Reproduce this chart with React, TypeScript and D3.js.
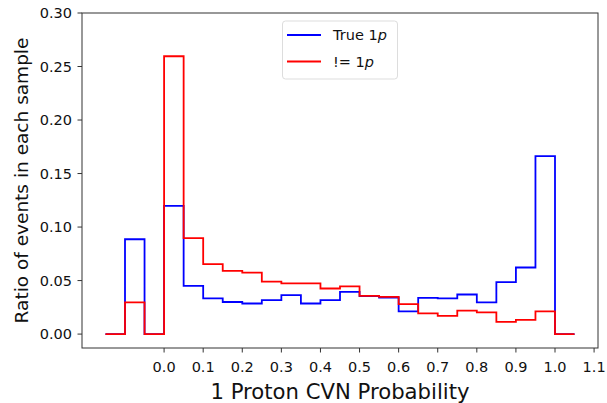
import React from "react";
import * as d3 from "d3";

const binEdges = [-0.15, -0.1, -0.05, 0.0, 0.05, 0.1, 0.15, 0.2, 0.25, 0.3, 0.35, 0.4, 0.45, 0.5, 0.55, 0.6, 0.65, 0.7, 0.75, 0.8, 0.85, 0.9, 0.95, 1.0, 1.05];
const trueP = [0, 0.0886, 0, 0.1197, 0.045, 0.0333, 0.030, 0.0286, 0.0317, 0.0364, 0.0286, 0.0317, 0.0395, 0.0355, 0.0342, 0.0212, 0.0339, 0.0333, 0.037, 0.0296, 0.0485, 0.0622, 0.1663, 0];
const notP = [0, 0.0296, 0, 0.2596, 0.0896, 0.0653, 0.059, 0.0575, 0.049, 0.0473, 0.0473, 0.0426, 0.0445, 0.0357, 0.0348, 0.028, 0.0193, 0.0171, 0.022, 0.0202, 0.0115, 0.0133, 0.0212, 0];
const xTicks = [0.0, 0.1, 0.2, 0.3, 0.4, 0.5, 0.6, 0.7, 0.8, 0.9, 1.0, 1.1];
const yTicks = [0.0, 0.05, 0.1, 0.15, 0.2, 0.25, 0.3];
const seriesNames = ["True 1", "!= 1"];

const W = 607, H = 403;
const L = 82, R = 598, T = 13, B = 348;
const FONT = "DejaVu Sans, sans-serif";

export default function App() {
  const x = d3.scaleLinear().domain([-0.21, 1.11]).range([L, R]);
  const y = d3.scaleLinear().domain([-0.013, 0.3]).range([B, T]);

  const stepPath = (vals: number[]) => {
    const pts: [number, number][] = [];
    pts.push([binEdges[0], 0]);
    vals.forEach((v, i) => {
      pts.push([binEdges[i], v]);
      pts.push([binEdges[i + 1], v]);
    });
    pts.push([binEdges[binEdges.length - 1], 0]);
    return d3.line<[number, number]>().x((d) => x(d[0])).y((d) => y(d[1]))(pts) || "";
  };

  return (
    <svg width={W} height={H} style={{ position: "absolute", left: 0, top: 0, background: "#fff" }} fontFamily={FONT}>
      <rect x={0} y={0} width={W} height={H} fill="#fff" />
      <path d={stepPath(trueP)} fill="none" stroke="#0000ff" strokeWidth={1.8} />
      <path d={stepPath(notP)} fill="none" stroke="#ff0000" strokeWidth={1.8} />
      <rect x={L} y={T} width={R - L} height={B - T} fill="none" stroke="#333" strokeWidth={1} />
      {yTicks.map((t) => (
        <g key={"y" + t}>
          <line x1={L - 4.5} x2={L} y1={y(t)} y2={y(t)} stroke="#333" />
          <text x={L - 10} y={y(t)} dy="0.36em" textAnchor="end" fontSize={14.5} fill="#111">
            {t.toFixed(2)}
          </text>
        </g>
      ))}
      {xTicks.map((t) => (
        <g key={"x" + t}>
          <line x1={x(t)} x2={x(t)} y1={B} y2={B + 4.5} stroke="#333" />
          <text x={x(t)} y={372} textAnchor="middle" fontSize={14.5} fill="#111">
            {t.toFixed(1)}
          </text>
        </g>
      ))}
      <text x={(L + R) / 2} y={399} textAnchor="middle" fontSize={21.2} fill="#111">
        1 Proton CVN Probability
      </text>
      <text transform={`translate(28, ${(T + B) / 2}) rotate(-90)`} textAnchor="middle" fontSize={18.5} fill="#111">
        Ratio of events in each sample
      </text>
      <g>
        <rect x={282.5} y={21} width={115} height={58} rx={3} fill="#fff" fillOpacity={0.8} stroke="#ddd" />
        <line x1={287} x2={321} y1={35} y2={35} stroke="#0000ff" strokeWidth={1.8} />
        <line x1={287} x2={321} y1={61.5} y2={61.5} stroke="#ff0000" strokeWidth={1.8} />
        <text x={333} y={35} dy="0.36em" fontSize={14.5} fill="#111">
          {seriesNames[0]}<tspan fontStyle="italic">p</tspan>
        </text>
        <text x={333} y={61.5} dy="0.36em" fontSize={14.5} fill="#111">
          {seriesNames[1]}<tspan fontStyle="italic">p</tspan>
        </text>
      </g>
    </svg>
  );
}
